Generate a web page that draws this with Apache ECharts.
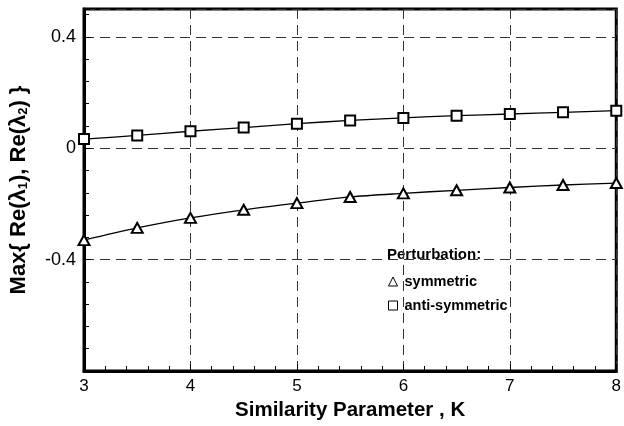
<!DOCTYPE html>
<html>
<head>
<meta charset="utf-8">
<script src="https://cdn.jsdelivr.net/npm/echarts@6/dist/echarts.min.js"></script>
<style>
  html, body { margin: 0; padding: 0; background: #fff; }
  #chart { width: 624px; height: 426px; }
</style>
</head>
<body>
<div id="chart"></div>
<script>
// similarity parameter K
const kValues = [3, 3.5, 4, 4.5, 5, 5.5, 6, 6.5, 7, 7.5, 8]
// max growth rate, symmetric perturbation
const symmetric = [-0.330, -0.286, -0.250, -0.221, -0.197, -0.175, -0.162, -0.151, -0.141, -0.132, -0.125]
// max growth rate, anti-symmetric perturbation
const antiSymmetric = [0.033, 0.046, 0.061, 0.074, 0.088, 0.100, 0.109, 0.117, 0.123, 0.129, 0.135]
const yTickLabels = { '-0.8': '', '-0.4': '-0.4', '0': '0', '0.4': '0.4' }

const chart = echarts.init(document.getElementById('chart'))
const font = '"Liberation Sans", Arial, sans-serif'

const toPairs = ys => kValues.map((k, i) => [k, ys[i]])

const gridLine = { show: true, lineStyle: { color: '#333', width: 1, type: [10, 6] } }

const option = {
  animation: false,
  textStyle: { fontFamily: font },
  grid: {
    left: 83, right: 4, top: 9, bottom: 50,
    show: true, borderColor: '#000', borderWidth: 3
  },
  xAxis: {
    type: 'value',
    min: 3, max: 8, interval: 1,
    name: 'Similarity Parameter , K',
    nameLocation: 'middle',
    nameGap: 29,
    nameTextStyle: { fontSize: 20.5, fontWeight: 'bold', color: '#000', fontFamily: font },
    axisLine: { show: true, onZero: false, lineStyle: { color: '#000', width: 3 } },
    axisTick: { show: true, inside: true, length: 7, lineStyle: { color: '#000', width: 1 } },
    minorTick: { show: true, splitNumber: 5, length: 5, lineStyle: { color: '#000', width: 1 } },
    axisLabel: { fontSize: 17, color: '#000', margin: 7, fontFamily: font },
    splitLine: gridLine
  },
  yAxis: {
    type: 'value',
    min: -0.8, max: 0.5, interval: 0.4,
    name: 'Max{ Re(λ{s|1}), Re(λ{s|2}) }',
    nameLocation: 'middle',
    nameGap: 54,
    nameTextStyle: {
      fontSize: 22, fontWeight: 'bold', color: '#000', fontFamily: font,
      rich: {
        s: { fontSize: 13, fontWeight: 'bold', color: '#000', fontFamily: font, padding: [9, 0, 0, 0] }
      }
    },
    axisLine: { show: true, onZero: false, lineStyle: { color: '#000', width: 3 } },
    axisTick: { show: true, inside: true, length: 7, lineStyle: { color: '#000', width: 1 } },
    minorTick: { show: true, splitNumber: 5, length: 5, lineStyle: { color: '#000', width: 1 } },
    axisLabel: {
      fontSize: 18, color: '#000', margin: 8, fontFamily: font,
      showMaxLabel: false,
      formatter: v => {
        const key = String(Math.round(v * 10) / 10)
        return key in yTickLabels ? yTickLabels[key] : ''
      }
    },
    splitLine: gridLine
  },
  legend: {
    orient: 'vertical',
    left: 383, top: 269,
    itemWidth: 9, itemHeight: 9, itemGap: 9,
    textStyle: { fontSize: 14.5, fontWeight: 'bold', color: '#000', fontFamily: font, padding: [0, 0, 0, 2] },
    itemStyle: { color: '#fff', borderColor: '#000', borderWidth: 1 },
    data: [
      { name: 'symmetric', icon: 'triangle' },
      { name: 'anti-symmetric', icon: 'rect' }
    ]
  },
  graphic: [{
    type: 'text',
    left: 387, top: 247,
    style: { text: 'Perturbation:', fontSize: 15, fontWeight: 'bold', fill: '#000', fontFamily: font }
  }],
  series: [
    {
      name: 'symmetric',
      type: 'line',
      data: toPairs(symmetric),
      smooth: 0.3,
      symbol: 'emptyTriangle',
      symbolSize: [11, 10],
      lineStyle: { color: '#000', width: 1.3 },
      itemStyle: { color: '#000', borderColor: '#000', borderWidth: 1.3 }
    },
    {
      name: 'anti-symmetric',
      type: 'line',
      data: toPairs(antiSymmetric),
      smooth: 0.3,
      symbol: 'emptyRect',
      symbolSize: 10,
      lineStyle: { color: '#000', width: 1.3 },
      itemStyle: { color: '#000', borderColor: '#000', borderWidth: 1.3 }
    }
  ]
}

chart.setOption(option)
</script>
</body>
</html>
